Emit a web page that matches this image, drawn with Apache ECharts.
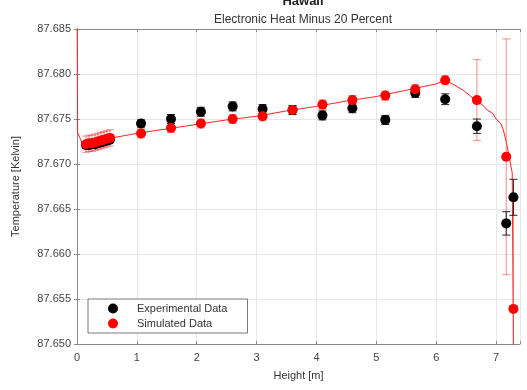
<!DOCTYPE html>
<html>
<head>
<meta charset="utf-8">
<script src="https://cdn.jsdelivr.net/npm/echarts@6/dist/echarts.min.js"></script>
<style>
  html, body { margin: 0; padding: 0; background: #fff; }
  #chart { width: 527px; height: 390px; }
</style>
</head>
<body>
<div id="chart"></div>
<script>
// Measured points (height in m, temperature in K, one-sigma error)
const expX = [0.15, 0.2, 0.25, 0.3, 0.35, 0.4, 0.45, 0.5, 0.55, 1.07, 1.57, 2.07, 2.6, 3.1, 3.6, 4.1, 4.6, 5.15, 5.65, 6.15, 6.68, 7.17, 7.29];
const expY = [87.6721, 87.6721, 87.6722, 87.6722, 87.6723, 87.6724, 87.6725, 87.6726, 87.6727, 87.6745, 87.6750, 87.6758, 87.6764, 87.6761, 87.6760, 87.6754, 87.6762, 87.6749, 87.6779, 87.6772, 87.6742, 87.6634, 87.6663];
const expErr = [0.0003, 0.0003, 0.0003, 0.0003, 0.0003, 0.0003, 0.0003, 0.0003, 0.0003, 0.0004, 0.0005, 0.0005, 0.0005, 0.0005, 0.0005, 0.0005, 0.0005, 0.0005, 0.0005, 0.0006, 0.0008, 0.0013, 0.002];

// Simulated values at the sensor heights
const simX = [0.15, 0.2, 0.25, 0.3, 0.35, 0.4, 0.45, 0.5, 0.55, 1.07, 1.57, 2.07, 2.6, 3.1, 3.6, 4.1, 4.6, 5.15, 5.65, 6.15, 6.68, 7.17, 7.29];
const simY = [87.6722, 87.6723, 87.6723, 87.6724, 87.6725, 87.6726, 87.6727, 87.6728, 87.6729, 87.6734, 87.6740, 87.6745, 87.6750, 87.6753, 87.6760, 87.6766, 87.6771, 87.6776, 87.6783, 87.6793, 87.6771, 87.6708, 87.6539];
const simErr = [0.0009, 0.0009, 0.0009, 0.0009, 0.0009, 0.0009, 0.0009, 0.0009, 0.0009, 0.0005, 0.0005, 0.0005, 0.0005, 0.0005, 0.0005, 0.0005, 0.0005, 0.0005, 0.0005, 0.0005, 0.0045, 0.0131, 0.012];

// Continuous simulated profile
const profX = [0, 0.01, 0.1, 0.5, 1.0, 1.5, 2.0, 2.5, 3.0, 3.5, 4.0, 4.5, 5.0, 5.5, 6.0, 6.15, 6.3, 6.45, 6.6, 6.7, 6.8, 6.85, 6.95, 7.0, 7.08, 7.12, 7.17, 7.22, 7.27, 7.3];
const profY = [87.690, 87.6735, 87.6721, 87.6728, 87.6734, 87.6739, 87.6744, 87.6749, 87.6753, 87.6759, 87.6764, 87.6770, 87.6775, 87.6782, 87.6789, 87.6793, 87.6788, 87.6782, 87.6774, 87.6770, 87.6764, 87.6760, 87.6756, 87.6750, 87.6745, 87.6738, 87.6725, 87.6708, 87.6690, 87.640];

const xTicks = [0, 1, 2, 3, 4, 5, 6, 7];
const yTicks = [87.650, 87.655, 87.660, 87.665, 87.670, 87.675, 87.680, 87.685];

const FONT = 'Liberation Sans, Arial, sans-serif';

function zip3(a, b, c) { return a.map((v, i) => [v, b[i], c[i]]); }

function errorBars(color) {
  return function (params, api) {
    const x = api.value(0), y = api.value(1), e = api.value(2);
    const lo = api.coord([x, y - e]);
    const hi = api.coord([x, y + e]);
    const cs = params.coordSys;
    const top = cs.y, bot = cs.y + cs.height;
    const px = lo[0];
    const y1 = Math.max(top, Math.min(bot, hi[1]));
    const y2 = Math.max(top, Math.min(bot, lo[1]));
    const w = 4;
    const style = { stroke: color, lineWidth: 1 };
    const children = [
      { type: 'line', shape: { x1: px, y1: y1, x2: px, y2: y2 }, style: style }
    ];
    if (hi[1] >= top) children.push({ type: 'line', shape: { x1: px - w, y1: hi[1], x2: px + w, y2: hi[1] }, style: style });
    if (lo[1] <= bot) children.push({ type: 'line', shape: { x1: px - w, y1: lo[1], x2: px + w, y2: lo[1] }, style: style });
    return { type: 'group', children: children };
  };
}

const chart = echarts.init(document.getElementById('chart'), null, { renderer: 'canvas' });

const axisLine = { show: true, lineStyle: { color: '#8a8a8a', width: 1 } };
const splitLine = { show: true, lineStyle: { color: '#e6e6e6', width: 1 } };

chart.setOption({
  backgroundColor: '#fff',
  animation: false,
  title: [
    { text: 'Hawaii', left: 298, textAlign: 'center', top: -10,
      textStyle: { fontFamily: FONT, fontSize: 13, fontWeight: 'bold', color: '#222' } },
    { text: 'Electronic Heat Minus 20 Percent', left: 298, textAlign: 'center', top: 9,
      textStyle: { fontFamily: FONT, fontSize: 12, fontWeight: 'normal', color: '#333' } }
  ],
  grid: { left: 77, right: 7, top: 29, bottom: 46, show: false },
  legend: {
    orient: 'vertical', left: 88, top: 299,
    padding: [4, 20, 4, 20],
    itemGap: 4, itemWidth: 10, itemHeight: 10,
    borderColor: '#7a7a7a', borderWidth: 1, backgroundColor: '#fff',
    textStyle: { fontFamily: FONT, fontSize: 11, color: '#333', padding: [0, 0, 0, 14] },
    data: [
      { name: 'Experimental Data', icon: 'circle', itemStyle: { color: '#000', opacity: 1 } },
      { name: 'Simulated Data', icon: 'circle', itemStyle: { color: '#f00', opacity: 1 } }
    ]
  },
  xAxis: [
    {
      type: 'value', min: 0, max: 7.4, interval: 1,
      name: 'Height [m]', nameLocation: 'middle', nameGap: 26,
      nameTextStyle: { fontFamily: FONT, fontSize: 11, color: '#333' },
      axisLine: axisLine,
      axisTick: { show: true, inside: true, length: 3, lineStyle: { color: '#8a8a8a' } },
      axisLabel: { fontFamily: FONT, fontSize: 11, color: '#444', margin: 8,
        formatter: v => (xTicks.indexOf(v) >= 0 ? String(v) : '') },
      splitLine: splitLine
    },
    {
      type: 'value', min: 0, max: 7.4, interval: 1, position: 'top',
      axisLine: axisLine,
      axisTick: { show: true, inside: true, length: 3, lineStyle: { color: '#8a8a8a' } },
      axisLabel: { show: false }, splitLine: { show: false }
    }
  ],
  yAxis: [
    {
      type: 'value', min: 87.650, max: 87.685, interval: 0.005,
      name: 'Temperature [Kelvin]', nameLocation: 'middle', nameGap: 56,
      nameTextStyle: { fontFamily: FONT, fontSize: 11, color: '#333' },
      axisLine: axisLine,
      axisTick: { show: true, inside: true, length: 3, lineStyle: { color: '#8a8a8a' } },
      axisLabel: { fontFamily: FONT, fontSize: 11, color: '#444', margin: 6,
        formatter: v => {
          const t = yTicks.find(k => Math.abs(k - v) < 1e-7);
          return t === undefined ? '' : t.toFixed(3);
        } },
      splitLine: splitLine
    },
    {
      type: 'value', min: 87.650, max: 87.685, interval: 0.005, position: 'right',
      axisLine: axisLine,
      axisTick: { show: true, inside: true, length: 3, lineStyle: { color: '#8a8a8a' } },
      axisLabel: { show: false }, splitLine: { show: false }
    }
  ],
  series: [
    {
      name: 'profile', type: 'line', showSymbol: false, symbol: 'none', clip: true,
      data: profX.map((x, i) => [x, profY[i]]),
      lineStyle: { color: '#f22', width: 1 }, z: 2, silent: true
    },
    {
      name: 'simErr', type: 'custom', clip: true, z: 3,
      renderItem: errorBars('rgba(240,60,60,0.6)'),
      data: zip3(simX, simY, simErr), silent: true
    },
    {
      name: 'expErr', type: 'custom', clip: true, z: 4,
      renderItem: errorBars('#222'),
      data: zip3(expX, expY, expErr), silent: true
    },
    {
      name: 'Experimental Data', type: 'scatter', symbol: 'circle', symbolSize: 10,
      itemStyle: { color: '#000', opacity: 1 }, z: 5,
      data: expX.map((x, i) => [x, expY[i]])
    },
    {
      name: 'Simulated Data', type: 'scatter', symbol: 'circle', symbolSize: 10,
      itemStyle: { color: '#f00', opacity: 1 }, z: 6,
      data: simX.map((x, i) => [x, simY[i]])
    }
  ]
});
</script>
</body>
</html>
